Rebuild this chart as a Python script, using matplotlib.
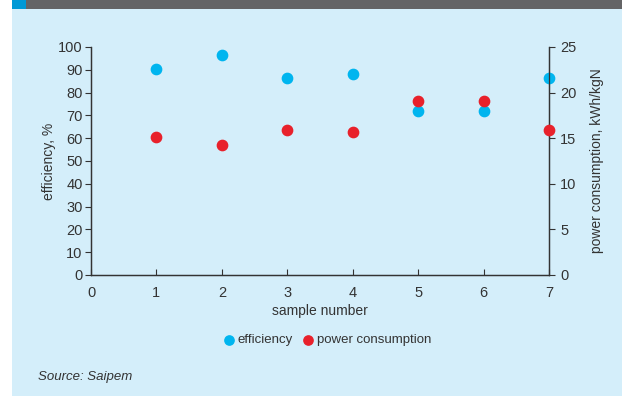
import matplotlib.pyplot as plt
from matplotlib.patches import Rectangle

plt.rcParams['font.family'] = ['Liberation Sans Narrow', 'Liberation Sans', 'DejaVu Sans']

samples = [1, 2, 3, 4, 5, 6, 7]
efficiency = [90.5, 96.5, 86.5, 88, 72, 72, 86.5]
power = [15.1, 14.3, 15.9, 15.7, 19.1, 19.1, 15.9]

bg = '#d4eefa'
blue = '#00b5ef'
red = '#e8212b'
dark = '#333333'

fig = plt.figure(figsize=(6.22, 3.96), dpi=100)
fig.patch.set_facecolor('white')
# panel background and header strip
fig.patches.append(Rectangle((12 / 622, 0), 1 - 12 / 622, 1, transform=fig.transFigure,
                             facecolor=bg, edgecolor='none', zorder=-3))
fig.patches.append(Rectangle((12 / 622, 1 - 9 / 396), 1, 9 / 396, transform=fig.transFigure,
                             facecolor='#646466', edgecolor='none', zorder=-2))
fig.patches.append(Rectangle((12 / 622, 1 - 9 / 396), 14 / 622, 9 / 396, transform=fig.transFigure,
                             facecolor='#0099d6', edgecolor='none', zorder=-1))

ax = fig.add_axes([91 / 622, 121 / 396, 458 / 622, 228 / 396])
ax.set_facecolor('none')
ax2 = ax.twinx()

ax.scatter(samples, efficiency, s=55, color=blue, zorder=3, clip_on=False, label='efficiency')
ax2.scatter(samples, power, s=55, color=red, zorder=3, clip_on=False, label='power consumption')

ax.set_xlim(0, 7)
ax.set_ylim(0, 100)
ax2.set_ylim(0, 25)
ax.set_xticks(range(0, 8))
ax.set_yticks(range(0, 101, 10))
ax2.set_yticks(range(0, 26, 5))

for a in (ax, ax2):
    a.spines['top'].set_visible(False)
    for s in ('left', 'right', 'bottom'):
        a.spines[s].set_color(dark)
        a.spines[s].set_linewidth(0.9)

ax.tick_params(axis='y', direction='out', length=4, width=0.8, color=dark,
               labelsize=10.5, labelcolor=dark, pad=2)
ax.tick_params(axis='x', direction='in', length=4, width=0.8, color=dark,
               labelsize=10.5, labelcolor=dark, pad=8)
ax2.tick_params(axis='y', direction='out', length=4, width=0.8, color=dark,
                labelsize=10.5, labelcolor=dark, pad=4)

ax.set_ylabel('efficiency, %', fontsize=10, color=dark, labelpad=1.5)
ax2.set_ylabel('power consumption, kWh/kgN', fontsize=10, color=dark, labelpad=10)
ax.set_xlabel('sample number', fontsize=10, color=dark, labelpad=3)

h1, l1 = ax.get_legend_handles_labels()
h2, l2 = ax2.get_legend_handles_labels()
fig.legend(h1 + h2, l1 + l2, loc='center', bbox_to_anchor=(0.525, 1 - 340 / 396),
           ncol=2, frameon=False, fontsize=9.5, handletextpad=0.15, columnspacing=0.7,
           handlelength=1.0, markerscale=0.9, labelcolor=dark)

fig.text(38 / 622, 1 - 377 / 396, 'Source: Saipem', fontsize=9.5, style='italic', color=dark,
         va='center', family=['Liberation Sans', 'DejaVu Sans'])

fig.savefig('out.png', dpi=100, facecolor=fig.get_facecolor())
